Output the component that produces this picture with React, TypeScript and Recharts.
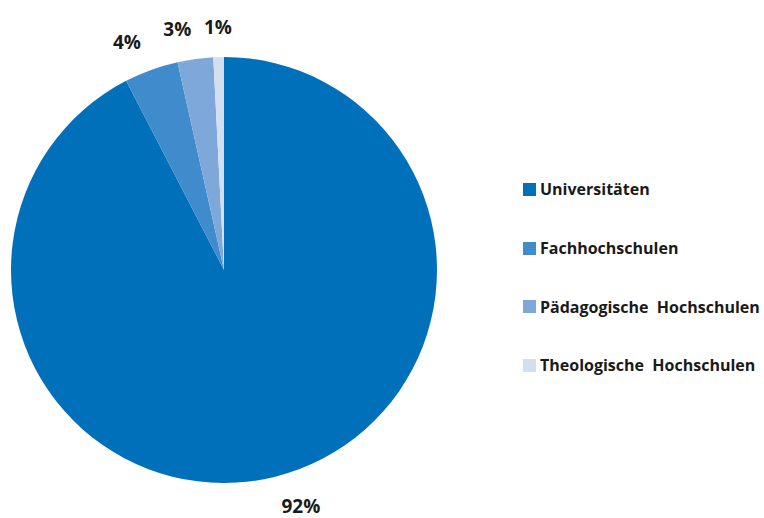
import { Legend, Pie, PieChart, Cell } from 'recharts'

const categories = ['Universitäten', 'Fachhochschulen', 'Pädagogische  Hochschulen', 'Theologische  Hochschulen']
const shares = [92.4, 4.1, 2.7, 0.8]
const colors = ['#0070ba', '#408bcb', '#7ea7da', '#d3dff1']

const data = categories.map((name, i) => ({ name, value: shares[i] }))

const RAD = Math.PI / 180

function renderLabel(props: any) {
  const { cx, cy, midAngle, outerRadius, percent } = props
  const r = outerRadius + 30
  const cos = Math.cos(-midAngle * RAD)
  const x = cx + r * cos
  const y = cy + r * Math.sin(-midAngle * RAD)
  const anchor = Math.abs(cos) < 0.05 ? 'middle' : cos > 0 ? 'start' : 'end'
  return (
    <text
      x={x}
      y={y}
      textAnchor={anchor}
      dominantBaseline="central"
      fill="#1a1a1a"
      fontSize={19}
      fontWeight={700}
      fontFamily="'Open Sans', 'Noto Sans', sans-serif"
    >
      {`${Math.round(percent * 100)}%`}
    </text>
  )
}

function LegendList() {
  return (
    <div style={{ fontFamily: "'Open Sans', 'Noto Sans', sans-serif" }}>
      {data.map((d, i) => (
        <div
          key={d.name}
          style={{ display: 'flex', alignItems: 'center', height: 58.7, whiteSpace: 'pre' }}
        >
          <span style={{ width: 13, height: 13, background: colors[i], marginRight: 4, display: 'inline-block' }} />
          <span style={{ fontSize: 16, fontWeight: 700, color: '#1a1a1a' }}>{d.name}</span>
        </div>
      ))}
    </div>
  )
}

export default function App() {
  return (
    <div style={{ position: 'absolute', left: 0, top: 0, background: '#fff' }}>
      <PieChart width={764} height={518} margin={{ top: 0, right: 0, bottom: 0, left: 0 }}>
        <Pie
          data={data}
          dataKey="value"
          nameKey="name"
          cx={224}
          cy={270}
          outerRadius={213}
          startAngle={90}
          endAngle={-270}
          stroke="none"
          label={renderLabel}
          labelLine={false}
          isAnimationActive={false}
        >
          {data.map((d, i) => (
            <Cell key={d.name} fill={colors[i]} />
          ))}
        </Pie>
        <Legend
          layout="vertical"
          align="right"
          verticalAlign="top"
          wrapperStyle={{ left: 523, top: 160, width: 241 }}
          content={() => <LegendList />}
        />
      </PieChart>
    </div>
  )
}
